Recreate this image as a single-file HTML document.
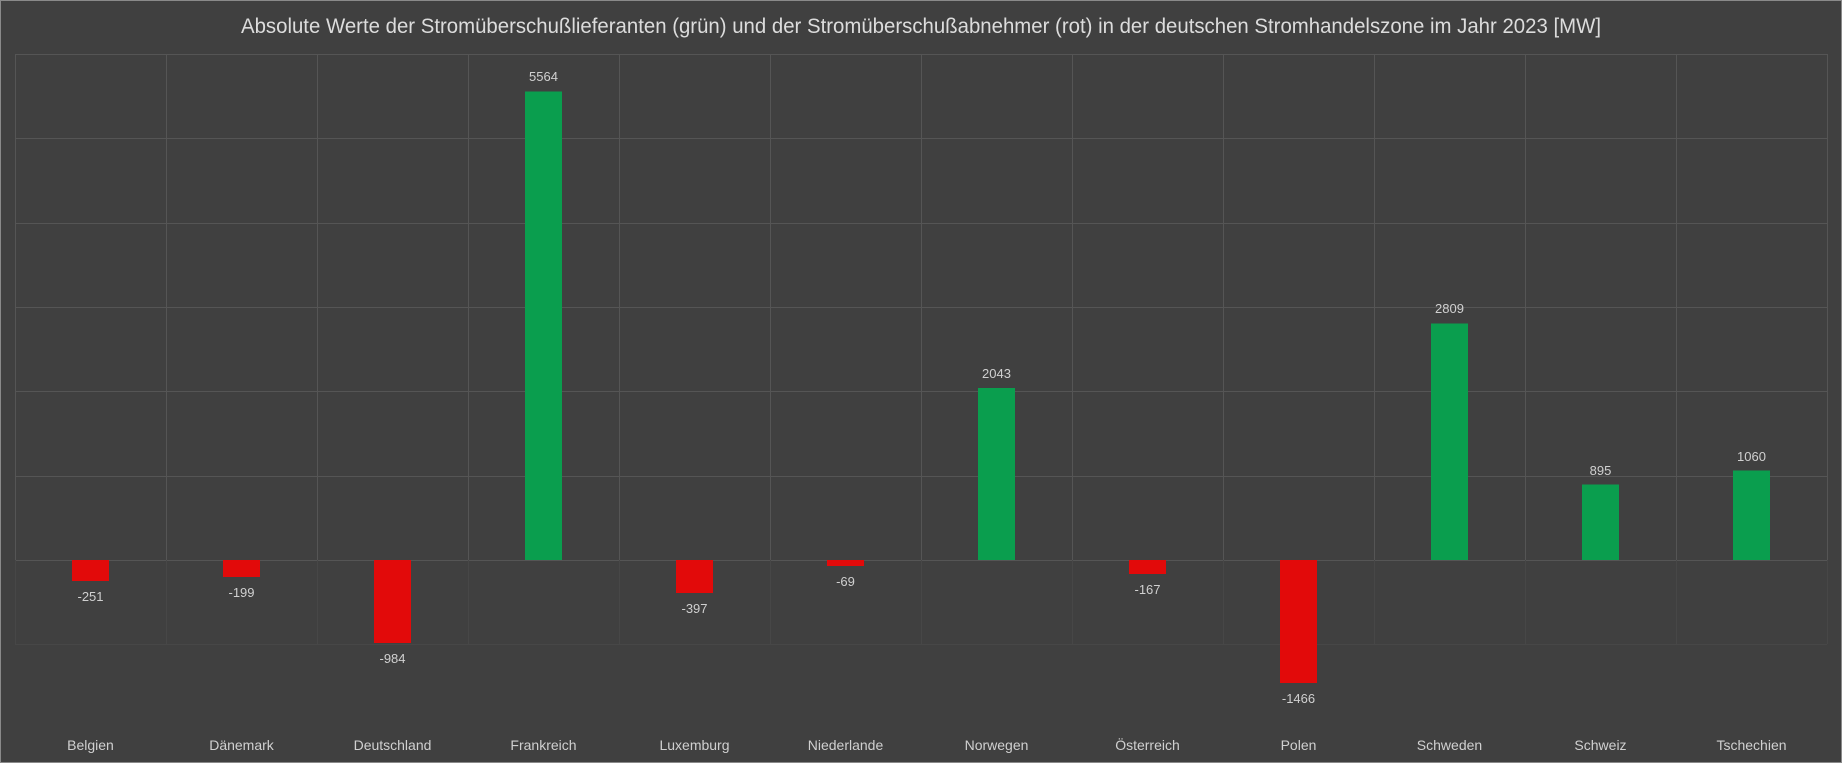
<!DOCTYPE html>
<html><head><meta charset="utf-8"><style>
html,body{margin:0;padding:0;background:#404040;}
svg{display:block;font-family:"Liberation Sans",sans-serif;}
</style></head><body>
<svg width="1842" height="763" viewBox="0 0 1842 763" xmlns="http://www.w3.org/2000/svg">
<rect x="0" y="0" width="1842" height="763" fill="#404040"/>
<rect x="0.5" y="0.5" width="1841" height="762" fill="none" stroke="#8a8a8a" stroke-width="1"/>
<text x="921" y="33" text-anchor="middle" font-size="21" fill="#dcdcdc" textLength="1360" lengthAdjust="spacingAndGlyphs">Absolute Werte der Stromüberschußlieferanten (grün) und der Stromüberschußabnehmer (rot) in der deutschen Stromhandelszone  im Jahr 2023 [MW]</text>
<g stroke="#555" stroke-width="1">
<line x1="15" y1="54.5" x2="1827" y2="54.5"/>
<line x1="15" y1="138.5" x2="1827" y2="138.5"/>
<line x1="15" y1="223.5" x2="1827" y2="223.5"/>
<line x1="15" y1="307.5" x2="1827" y2="307.5"/>
<line x1="15" y1="391.5" x2="1827" y2="391.5"/>
<line x1="15" y1="476.5" x2="1827" y2="476.5"/>
<line x1="15" y1="560.5" x2="1827" y2="560.5"/>
</g>
<g stroke="#555" stroke-width="1">
<line x1="15.5" y1="54" x2="15.5" y2="560"/><line x1="166.5" y1="54" x2="166.5" y2="560"/><line x1="317.5" y1="54" x2="317.5" y2="560"/><line x1="468.5" y1="54" x2="468.5" y2="560"/><line x1="619.5" y1="54" x2="619.5" y2="560"/><line x1="770.5" y1="54" x2="770.5" y2="560"/><line x1="921.5" y1="54" x2="921.5" y2="560"/><line x1="1072.5" y1="54" x2="1072.5" y2="560"/><line x1="1223.5" y1="54" x2="1223.5" y2="560"/><line x1="1374.5" y1="54" x2="1374.5" y2="560"/><line x1="1525.5" y1="54" x2="1525.5" y2="560"/><line x1="1676.5" y1="54" x2="1676.5" y2="560"/><line x1="1827.5" y1="54" x2="1827.5" y2="560"/>
</g>
<g stroke="#474747" stroke-width="1">
<line x1="15.5" y1="560" x2="15.5" y2="644"/><line x1="166.5" y1="560" x2="166.5" y2="644"/><line x1="317.5" y1="560" x2="317.5" y2="644"/><line x1="468.5" y1="560" x2="468.5" y2="644"/><line x1="619.5" y1="560" x2="619.5" y2="644"/><line x1="770.5" y1="560" x2="770.5" y2="644"/><line x1="921.5" y1="560" x2="921.5" y2="644"/><line x1="1072.5" y1="560" x2="1072.5" y2="644"/><line x1="1223.5" y1="560" x2="1223.5" y2="644"/><line x1="1374.5" y1="560" x2="1374.5" y2="644"/><line x1="1525.5" y1="560" x2="1525.5" y2="644"/><line x1="1676.5" y1="560" x2="1676.5" y2="644"/><line x1="1827.5" y1="560" x2="1827.5" y2="644"/>
<line x1="15" y1="644.5" x2="1827" y2="644.5"/>
</g>
<g>
<rect x="72" y="560" width="37" height="21" fill="#e20a0a"/>
<rect x="223" y="560" width="37" height="17" fill="#e20a0a"/>
<rect x="374" y="560" width="37" height="83" fill="#e20a0a"/>
<rect x="525" y="91.5" width="37" height="468.5" fill="#0a9e4e"/>
<rect x="676" y="560" width="37" height="33" fill="#e20a0a"/>
<rect x="827" y="560" width="37" height="6" fill="#e20a0a"/>
<rect x="978" y="388" width="37" height="172" fill="#0a9e4e"/>
<rect x="1129" y="560" width="37" height="14" fill="#e20a0a"/>
<rect x="1280" y="560" width="37" height="123" fill="#e20a0a"/>
<rect x="1431" y="323.5" width="37" height="236.5" fill="#0a9e4e"/>
<rect x="1582" y="484.5" width="37" height="75.5" fill="#0a9e4e"/>
<rect x="1733" y="470.5" width="37" height="89.5" fill="#0a9e4e"/>
</g>
<g font-size="13" fill="#d0d0d0" text-anchor="middle">
<text x="90.5" y="601">-251</text>
<text x="241.5" y="597">-199</text>
<text x="392.5" y="663">-984</text>
<text x="543.5" y="81">5564</text>
<text x="694.5" y="613">-397</text>
<text x="845.5" y="586">-69</text>
<text x="996.5" y="378">2043</text>
<text x="1147.5" y="594">-167</text>
<text x="1298.5" y="703">-1466</text>
<text x="1449.5" y="313">2809</text>
<text x="1600.5" y="475">895</text>
<text x="1751.5" y="461">1060</text>
</g>
<g font-size="14" fill="#d0d0d0" text-anchor="middle">
<text x="90.5" y="750">Belgien</text>
<text x="241.5" y="750">Dänemark</text>
<text x="392.5" y="750">Deutschland</text>
<text x="543.5" y="750">Frankreich</text>
<text x="694.5" y="750">Luxemburg</text>
<text x="845.5" y="750">Niederlande</text>
<text x="996.5" y="750">Norwegen</text>
<text x="1147.5" y="750">Österreich</text>
<text x="1298.5" y="750">Polen</text>
<text x="1449.5" y="750">Schweden</text>
<text x="1600.5" y="750">Schweiz</text>
<text x="1751.5" y="750">Tschechien</text>
</g>
</svg>
</body></html>
